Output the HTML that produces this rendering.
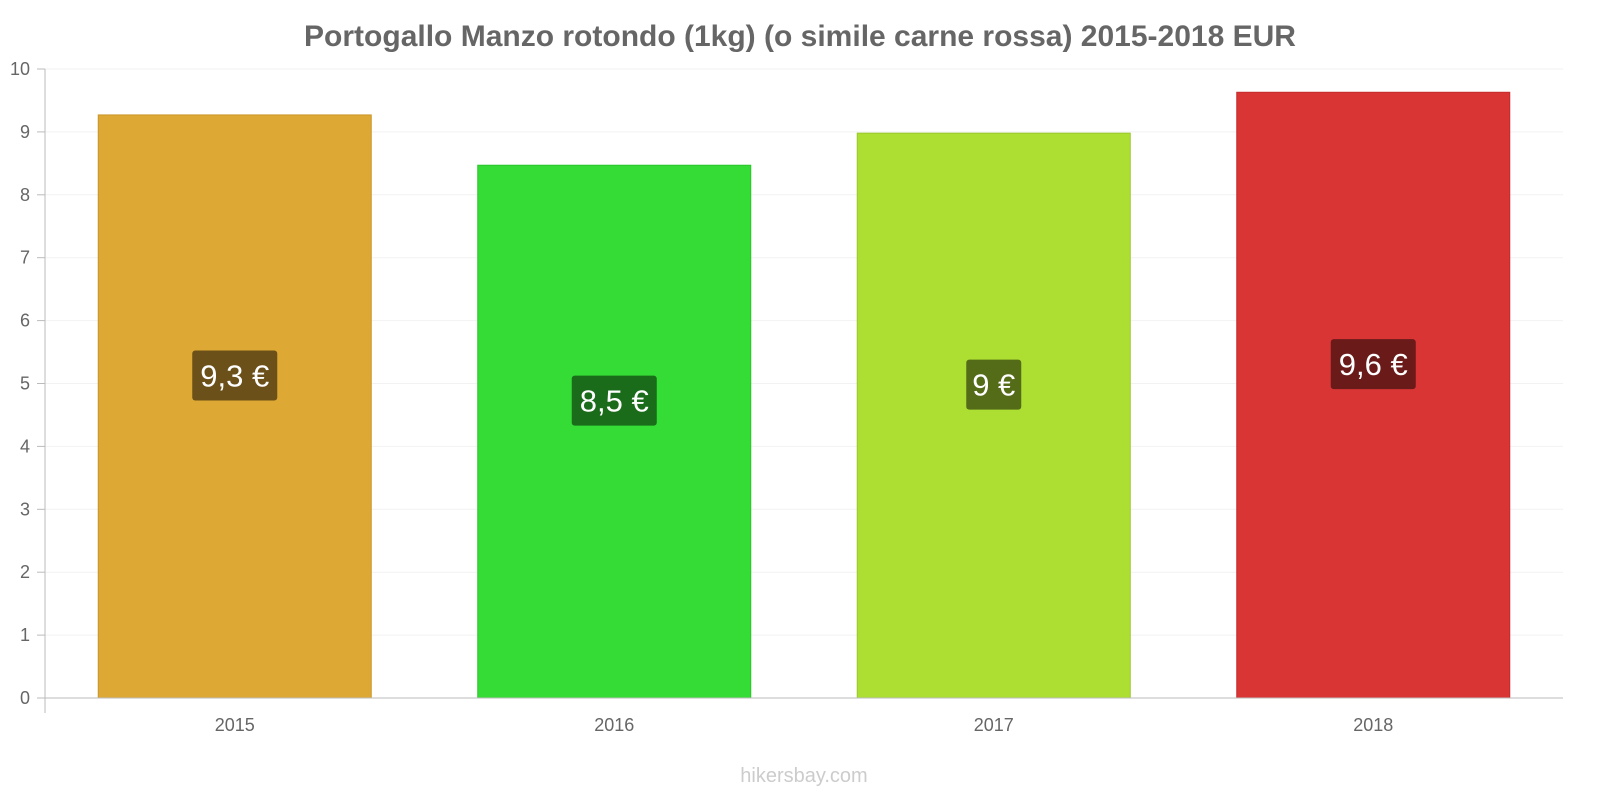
<!DOCTYPE html>
<html><head><meta charset="utf-8">
<style>
body{margin:0;background:#fff;width:1600px;height:800px;overflow:hidden;font-family:"Liberation Sans",sans-serif}
</style></head>
<body>
<svg id="chart" width="1600" height="800" xmlns="http://www.w3.org/2000/svg">
<text x="800" y="46" text-anchor="middle" font-size="30" font-weight="bold" fill="#666">Portogallo Manzo rotondo (1kg) (o simile carne rossa) 2015-2018 EUR</text>
<text x="804" y="782" text-anchor="middle" font-size="20" fill="#ccc">hikersbay.com</text>
</svg>
<script>
const categories=["2015","2016","2017","2018"];
const values=[9.27,8.47,8.98,9.63];
const valueLabels=["9,3 €","8,5 €","9 €","9,6 €"];
const yTicks=[0,1,2,3,4,5,6,7,8,9,10];
const fills=["#dda833","#35dc35","#addf33","#da3535"];
const strokes=["#c9962a","#2bc42b","#99c82a","#c42b2b"];
const labelBg=["#6b5019","#1a6b1a","#546b18","#6b1a1a"];
const ns="http://www.w3.org/2000/svg";
const svg=document.getElementById("chart");
const x0=45,x1=1563,y0=698,yTop=69;
const y=v=>y0-(y0-yTop)*v/10;
const bw=(x1-x0)/categories.length;
const xc=i=>x0+bw*(i+0.5);
function mk(t,a){const e=document.createElementNS(ns,t);for(const k in a)e.setAttribute(k,a[k]);svg.appendChild(e);return e;}
yTicks.forEach(t=>{
  const g=mk("line",{x1:x0,x2:x1,y1:y(t),y2:y(t),stroke:"#f2f2f2"});
  
  
  const tk=mk("line",{x1:x0-8,x2:x0,y1:y(t),y2:y(t),stroke:"#bbb"});
  
  
  const l=mk("text",{x:30,y:y(t)+6,"text-anchor":"end","font-size":18,fill:"#666"});
  l.textContent=t;
  
  
});
const ax=mk("line",{x1:x0,x2:x0,y1:yTop,y2:713,stroke:"#bbb"});


categories.forEach((c,i)=>{
  const top=y(values[i]);
  const b=mk("rect",{x:xc(i)-136.5,y:top,width:273,height:y0-top,fill:fills[i],stroke:strokes[i]});
  
  
  const cy=(top+y0)/2-31;
  const w=valueLabels[i].length*15+10;
  const r=mk("rect",{x:xc(i)-w/2,y:cy-25,width:w,height:50,rx:3,fill:labelBg[i]});
  
  
  const t=mk("text",{x:xc(i),y:cy+11,"text-anchor":"middle","font-size":31,fill:"#fff"});
  t.textContent=valueLabels[i];
  
  
  const xl=mk("text",{x:xc(i),y:731,"text-anchor":"middle","font-size":18,fill:"#666"});
  xl.textContent=c;
  
  
});
const xa=mk("line",{x1:x0-8,x2:x1,y1:y0,y2:y0,stroke:"#bbb"});


</script>
</body></html>
